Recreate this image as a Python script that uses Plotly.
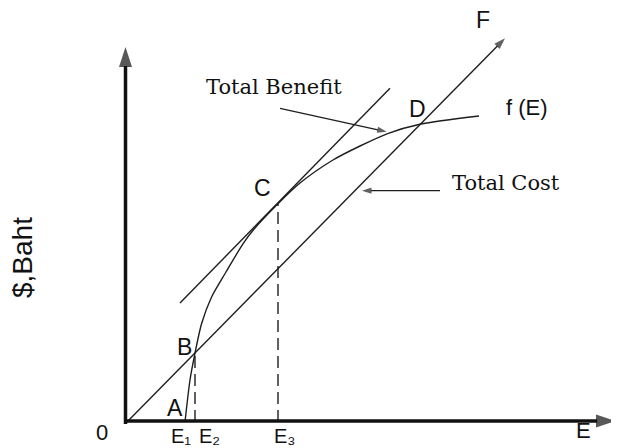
import plotly.graph_objects as go

# Diagram coordinates (E on x, $ on y)
curve_E = [58, 63, 67.3, 74.7, 84.7, 99, 116.3, 126.3, 150.7, 173, 206, 233, 261.3, 293, 352]
curve_val = [0, 42, 65.3, 98.7, 125.3, 150, 178.7, 192, 218, 239, 262, 276, 288.7, 297.7, 306]

cost_E = [0, 378]
cost_val = [0, 383.7]

tangent_E = [53, 263]
tangent_val = [119, 333.7]

drop_E = [68, 151]          # E2, E3
drop_val = [66, 218]        # heights of B and C

point_names = ["A", "B", "C", "D"]
point_E = [48, 57, 135, 290]
point_val = [14, 75, 234, 313]

tick_names = ["E\u2081", "E\u2082", "E\u2083"]
tick_E = [41.5, 70, 145]

# pointer arrows (tail -> tip)
benefit_ptr_E = [153, 259.7]
benefit_ptr_val = [313.7, 290.3]
cost_ptr_E = [313, 235]
cost_ptr_val = [231.3, 231.3]

# axes (origin -> arrow tip)
yaxis_E = [-1.5, -1.5]
yaxis_val = [-2, 375]
xaxis_E = [-3, 489]
xaxis_val = [1, 1]

LINE = "#1e1e1e"
SANS = "Liberation Sans, Arial, DejaVu Sans, sans-serif"
SERIF = "DejaVu Serif, serif"

fig = go.Figure()

def line(xs, ys, width=1.4, color=LINE, dash=None, shape="linear", arrow=None):
    kw = dict(x=xs, y=ys, hoverinfo="skip", showlegend=False,
              line=dict(color=color, width=width, dash=dash, shape=shape))
    if shape == "spline":
        kw["line"]["smoothing"] = 0.8
    if arrow:
        kw["mode"] = "lines+markers"
        kw["marker"] = dict(symbol="arrow", angleref="previous",
                            size=[0] * (len(xs) - 1) + [arrow], color=color,
                            line=dict(width=0))
    else:
        kw["mode"] = "lines"
    fig.add_trace(go.Scatter(**kw))

line(curve_E, curve_val, shape="spline")
line(cost_E, cost_val, arrow=12)
line(tangent_E, tangent_val)
for xe, yv in zip(drop_E, drop_val):
    line([xe, xe], [0, yv], dash="12px,6px")
line(benefit_ptr_E, benefit_ptr_val, width=1.3, arrow=10)
line(cost_ptr_E, cost_ptr_val, width=1.3, arrow=10)
line(yaxis_E, yaxis_val, width=3.5, color="#111", arrow=21)
line(xaxis_E, xaxis_val, width=3.5, color="#111", arrow=21)

ann = []

def label(txt, x, y, size=22, family=SANS, **kw):
    d = dict(x=x, y=y, xref="x", yref="y", text=txt, showarrow=False,
             font=dict(family=family, size=size, color="#111"))
    d.update(kw)
    ann.append(d)

for n, xe, yv in zip(point_names, point_E, point_val):
    label(n, xe, yv, size=23)
label("F", 356, 402, size=23)
label("f (E)", 400, 315)
label("0", -25, -10)
label("E", 456, -8)
for n, xe in zip(tick_names, tick_E):
    label(n, xe, -1, size=20, xanchor="left", yanchor="top")
label("Total Benefit", 147, 335, size=21, family=SERIF)
label("Total Cost", 379, 239, size=21, family=SERIF)
label("$,Baht", -105, 164, size=28, textangle=-90)

# The page body has an 8px default margin, so the figure is 8px smaller
# and its ranges start 8px further in.
fig.update_layout(
    width=611, height=440,
    margin=dict(l=0, r=0, t=0, b=0),
    paper_bgcolor="white", plot_bgcolor="white",
    xaxis=dict(range=[-119, 492], visible=False, fixedrange=True),
    yaxis=dict(range=[-26, 414], visible=False, fixedrange=True),
    annotations=ann,
    showlegend=False,
)

fig.write_html("out.html")
